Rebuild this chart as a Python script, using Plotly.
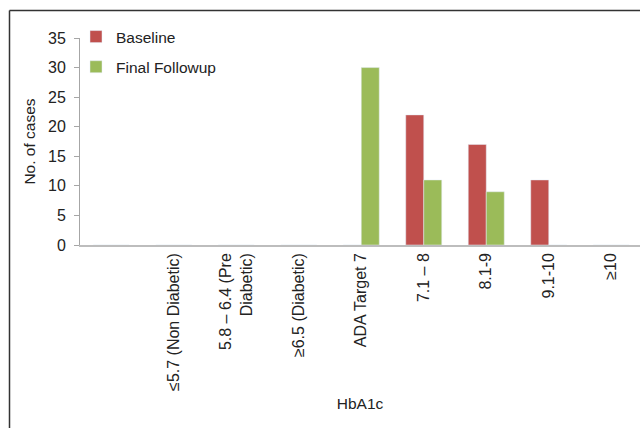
import plotly.graph_objects as go

categories = [" ", "≤5.7 (Non Diabetic)", "5.8 – 6.4 (Pre<br>Diabetic)", "≥6.5 (Diabetic)",
              "ADA Target 7", "7.1 – 8", "8.1-9", "9.1-10", "≥10"]
baseline = [0, 0, 0, 0, 0, 22, 17, 11, 0]
final_followup = [0, 0, 0, 0, 30, 11, 9, 0, 0]
y_ticks = [0, 5, 10, 15, 20, 25, 30, 35]

FONT = "Liberation Sans, Arial, sans-serif"
W, H = 640, 428
ML, MR, MT, MB = 80, 0, 38, 183
pw, ph = W - ML - MR, H - MT - MB

def px_x(x):
    return (x - ML) / pw

def px_y(y):
    return (H - MB - y) / ph

fig = go.Figure()
fig.add_trace(go.Bar(x=categories, y=baseline, name="Baseline",
                     marker_color="#C0504D", legendgroup="a"))
fig.add_trace(go.Bar(x=categories, y=final_followup, name="Final Followup",
                     marker_color="#9BBB59", legendgroup="b"))

fig.update_layout(
    width=W, height=H,
    margin=dict(l=ML, r=MR, t=MT, b=MB, autoexpand=False),
    paper_bgcolor="white", plot_bgcolor="white",
    font=dict(family=FONT, size=15.5, color="#222222"),
    barmode="group", bargap=0.424, bargroupgap=0,
    showlegend=True,
    legend=dict(x=px_x(76), y=px_y(20), xanchor="left", yanchor="top",
                bgcolor="rgba(0,0,0,0)", font=dict(size=15.5, color="#222222"),
                tracegroupgap=7, itemclick=False),
    xaxis=dict(
        type="category", categoryorder="array", categoryarray=categories,
        range=[-0.5, -0.5 + pw / 62.5],
        showgrid=False, zeroline=False,
        showline=True, linecolor="#BDBDBD", linewidth=1.5,
        ticks="", tickangle=-90, tickfont=dict(size=16, color="#222222"),
        title=dict(text="HbA1c", font=dict(size=15.5, color="#222222"), standoff=8),
        automargin=False,
    ),
    yaxis=dict(
        range=[0, 35], tickvals=y_ticks, showgrid=False, zeroline=False,
        showline=True, linecolor="#A6A6A6", linewidth=1,
        ticks="outside", ticklen=5, tickcolor="#A6A6A6", ticklabelstandoff=5,
        tickfont=dict(size=16, color="#222222"),
        title=dict(text="No. of cases", font=dict(size=15.5, color="#222222"), standoff=8),
        automargin=False,
    ),
    shapes=[
        dict(type="line", xref="paper", yref="paper",
             x0=px_x(9.5), x1=px_x(9.5), y0=px_y(440), y1=px_y(10.5),
             line=dict(color="#333333", width=1.5)),
        dict(type="line", xref="paper", yref="paper",
             x0=px_x(9.5), x1=px_x(660), y0=px_y(10.5), y1=px_y(10.5),
             line=dict(color="#333333", width=1.5)),
    ],
)

fig.write_html("out.html")
